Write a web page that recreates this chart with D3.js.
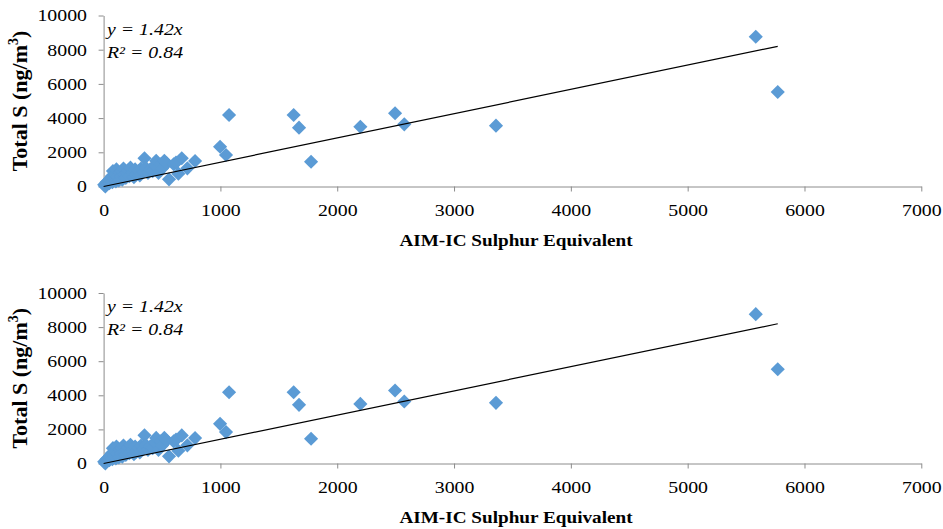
<!DOCTYPE html>
<html><head><meta charset="utf-8">
<script src="https://cdnjs.cloudflare.com/ajax/libs/d3/7.8.5/d3.min.js"></script>
<style>
body{margin:0;background:#fff;}
svg{display:block;}
text{font-family:"Liberation Serif","Times New Roman",serif;fill:#000;}
</style></head>
<body>
<svg id="c" width="943" height="529"></svg>
<script>
// AIM-IC sulphur equivalent (x) vs total S (y), ng/m3
const xVals = [5,15,25,30,40,50,55,60,70,75,80,90,100,105,110,120,130,140,150,155,160,170,180,190,200,210,220,230,250,260,270,280,300,310,320,340,350,360,380,400,420,440,450,470,490,500,520,540,560,600,620,640,669,717,783,997,1048,1074,1627,1673,1776,2198,2495,2574,3359,5583,5771];
const yVals = [100,0,250,150,300,200,450,350,600,250,900,450,700,300,1000,550,350,800,600,900,400,1050,700,500,800,950,600,1100,800,550,1000,700,900,650,1050,850,1650,1100,800,1000,900,1250,1500,800,1300,1050,1500,1350,420,1300,1400,750,1649,1064,1491,2327,1842,4181,4181,3439,1450,3497,4281,3637,3556,8760,5526];
const xTicks = [0,1000,2000,3000,4000,5000,6000,7000];
const yTicks = [0,2000,4000,6000,8000,10000];
const slope = 1.42;
const eqLabel = "y = 1.42x";
const r2Label = "R\u00b2 = 0.84";
const xTitle = "AIM-IC Sulphur Equivalent";
const yTitleMain = "Total S (ng/m";
const yTitleSup = "3";
const yTitleEnd = ")";

const svg = d3.select("#c");
const pts = xVals.map((x,i)=>({x, y:yVals[i]}));
const axisCol = "#8c8c8c";
const fillCol = "#5b9bd5";
const stretch = 1.24;

function panel(yTopPx, y0Px) {
  const x = d3.scaleLinear().domain([0,7000]).range([103.6,921.3]);
  const y = d3.scaleLinear().domain([0,10000]).range([y0Px,yTopPx]);
  const g = svg.append("g");

  // x axis
  const xa = g.append("g").attr("transform",`translate(0,${y0Px})`)
    .call(d3.axisBottom(x).tickValues(xTicks).tickSize(5).tickSizeOuter(0).tickFormat(d3.format("d")));
  xa.select(".domain").attr("stroke",axisCol);
  xa.selectAll(".tick line").attr("stroke",axisCol);
  xa.selectAll(".tick text").attr("font-size",16).attr("y",30).attr("dy",0)
    .attr("font-family","Liberation Serif").attr("transform",`scale(${stretch},1)`);

  // y axis
  const ya = g.append("g").attr("transform",`translate(103.6,0)`)
    .call(d3.axisLeft(y).tickValues(yTicks).tickSize(5).tickSizeOuter(0).tickFormat(d3.format("d")));
  ya.select(".domain").attr("stroke",axisCol);
  ya.selectAll(".tick line").attr("stroke",axisCol);
  ya.selectAll(".tick text").attr("font-size",16).attr("x",-16.6/stretch).attr("dy","0.34em")
    .attr("font-family","Liberation Serif").attr("transform",`scale(${stretch},1)`);

  // points
  const sym = d3.symbol().type(d3.symbolSquare).size(100);
  g.append("g").selectAll("path").data(pts).join("path")
    .attr("d",sym)
    .attr("transform",d=>`translate(${x(d.x)},${y(d.y)}) rotate(45)`)
    .attr("fill",fillCol);

  // trend line
  const xmax = d3.max(xVals);
  g.append("line")
    .attr("x1",x(0)).attr("y1",y(0))
    .attr("x2",x(xmax)).attr("y2",y(slope*xmax))
    .attr("stroke","#000").attr("stroke-width",1.2);

  // equation
  g.append("text").attr("transform",`translate(107,${yTopPx+19}) scale(${stretch},1)`)
    .attr("font-size",16).attr("font-style","italic").text(eqLabel);
  g.append("text").attr("transform",`translate(107,${yTopPx+42}) scale(${stretch},1)`)
    .attr("font-size",16).attr("font-style","italic").text(r2Label);

  // x title
  g.append("text").attr("transform",`translate(516,${y0Px+59}) scale(1.2,1)`)
    .attr("text-anchor","middle").attr("font-size",16).attr("font-weight","bold").text(xTitle);

  // y title
  const yt = g.append("text").attr("transform",`translate(27,${(yTopPx+y0Px)/2}) rotate(-90)`)
    .attr("text-anchor","middle").attr("font-size",22).attr("font-weight","bold");
  yt.append("tspan").text(yTitleMain);
  yt.append("tspan").attr("font-size",14).attr("dy",-9).text(yTitleSup);
  yt.append("tspan").attr("dy",9).text(yTitleEnd);
}

panel(15.5, 186.5);
panel(293, 463.5);
</script>
</body></html>
